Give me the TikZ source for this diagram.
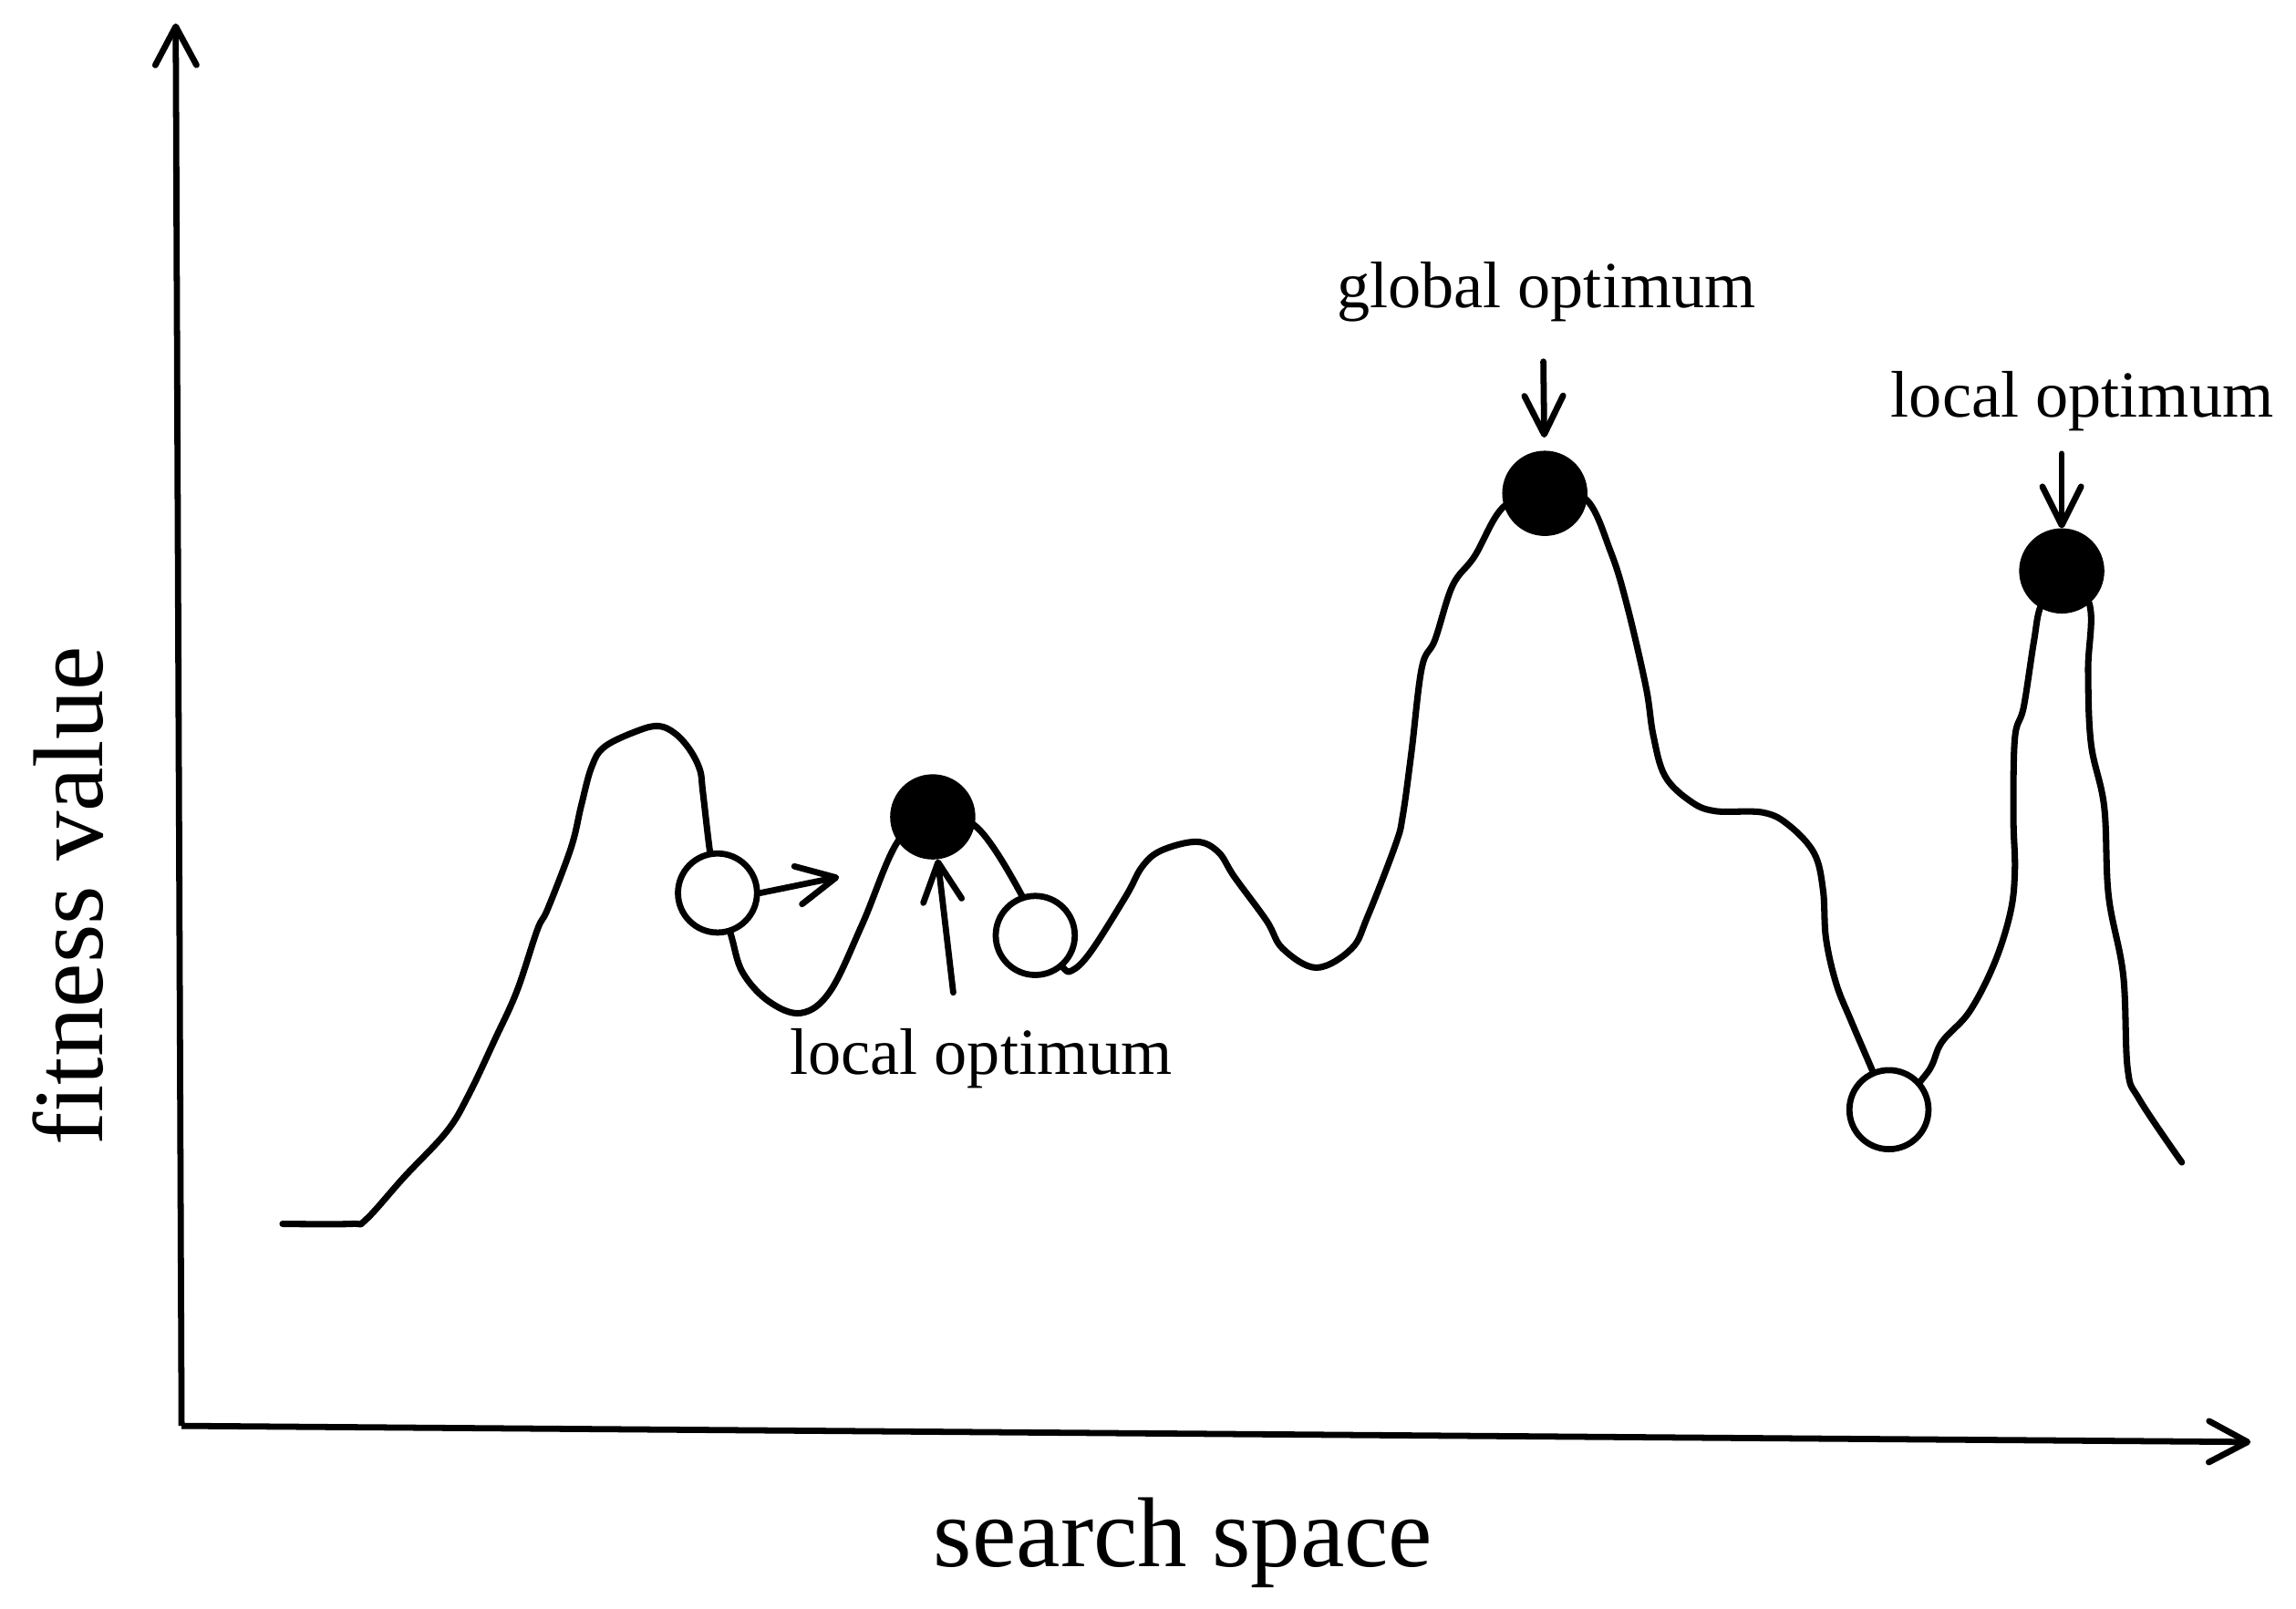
\documentclass[tikz,border=0pt]{standalone}
\usepackage{fontspec}
\setmainfont{Liberation Serif}
\usetikzlibrary{arrows.meta}

\begin{document}
\begin{tikzpicture}
	\tikzstyle{axisline}=[line width=1.2pt, -{Straight Barb[length=7.5pt,width=8pt,round]}]
	\tikzstyle{landscapeline}=[line width=1.25pt, line join=round, line cap=round]
	\tikzstyle{pointer}=[line width=1.2pt, line cap=round, -{Straight Barb[length=7.5pt,width=7.5pt,round]}]
	\tikzstyle{solution}=[circle, draw=black, line width=1.2pt, fill=white, minimum size=0.54cm, inner sep=0pt]
	\tikzstyle{optimum}=[solution, fill=black]
	\tikzstyle{optlabel}=[font=\fontsize{12.8}{15}\selectfont, anchor=base, inner sep=0pt]
	\tikzstyle{axislabel}=[font=\fontsize{19.3}{23}\selectfont, anchor=base, inner sep=0pt]
	\useasboundingbox (0,0) rectangle (15.68,10.99);

	% axes
	\coordinate (origin) at (1.24,1.25);
	\coordinate (ytop) at (1.20,10.83);
	\coordinate (xend) at (15.37,1.14);
	\draw[axisline] (origin) -- (ytop);
	\draw[axisline] (origin) -- (xend);
	\node (xlabel) [axislabel] at (8.08,0.29) {search space};
	\node (ylabel) [axislabel, rotate=90] at (0.70,4.87) {fitness value};

	% fitness landscape
	\draw[landscapeline] plot[smooth, tension=0.6] coordinates {
		(1.93,2.63) (2.40,2.63) (2.50,2.66) (2.76,2.95) (3.05,3.26) (3.20,3.51)
		(3.38,3.89) (3.53,4.22) (3.67,4.64) (3.74,4.78) (3.90,5.20) (3.97,5.49)
		(4.04,5.75) (4.13,5.89) (4.36,6.00) (4.50,6.03) (4.61,5.98) (4.71,5.87)
		(4.78,5.73) (4.80,5.58) (4.85,5.16) (4.90,4.89) (4.99,4.61) (5.07,4.35)
		(5.25,4.15) (5.47,4.07) (5.67,4.22) (5.89,4.68) (6.13,5.24) (6.37,5.41)
		(6.67,5.34) (6.98,4.87) (7.07,4.60) (7.25,4.39) (7.32,4.36) (7.45,4.49)
		(7.69,4.87) (7.80,5.07) (7.93,5.18) (8.17,5.24) (8.32,5.17) (8.43,5.00)
		(8.65,4.70) (8.76,4.51) (8.99,4.38) (9.23,4.51) (9.34,4.73) (9.53,5.22)
		(9.58,5.42) (9.64,5.86) (9.71,6.43) (9.80,6.62) (9.92,6.99) (10.07,7.19)
		(10.27,7.53) (10.55,7.62) (10.83,7.58) (11.00,7.22) (11.11,6.86) (11.24,6.30)
		(11.29,5.97) (11.37,5.69) (11.54,5.52) (11.71,5.45) (12.04,5.44) (12.22,5.35)
		(12.39,5.16) (12.45,4.91) (12.47,4.58) (12.54,4.27) (12.64,4.02) (12.79,3.67)
		(12.90,3.41) (13.16,3.66) (13.26,3.87) (13.45,4.08) (13.62,4.41) (13.73,4.76)
		(13.76,5.05) (13.75,5.41) (13.76,5.95) (13.82,6.16) (13.89,6.61) (13.94,6.86)
		(14.08,7.09) (14.27,6.86) (14.26,6.41) (14.28,5.91) (14.37,5.48) (14.40,4.87)
		(14.50,4.33) (14.53,3.69) (14.61,3.48) (14.90,3.05)
	};

	% solutions
	\node (start1) [solution] at (4.90,4.89) {};
	\node (start2) [solution] at (7.07,4.60) {};
	\node (start3) [solution] at (12.90,3.41) {};
	\node (lopt) [optimum] at (6.37,5.41) {};
	\node (gopt) [optimum] at (10.55,7.62) {};
	\node (ropt) [optimum] at (14.08,7.09) {};

	% labels and arrows
	\node (llabel) [optlabel] at (6.70,3.65) {local optimum};
	\node (glabel) [optlabel] at (10.56,8.89) {global optimum};
	\node (rlabel) [optlabel] at (14.22,8.14) {local optimum};
	\coordinate (hop) at (5.73,5.00);
	\coordinate (ltail) at (6.51,4.21);
	\coordinate (gtail) at (10.54,8.52);
	\coordinate (rtail) at (14.08,7.89);
	\draw[pointer] (start1.east) -- (hop);
	\draw[pointer] (ltail) -- (lopt);
	\draw[pointer, shorten >=0.09cm] (gtail) -- (gopt);
	\draw[pointer] (rtail) -- (ropt);
\end{tikzpicture}
\end{document}
